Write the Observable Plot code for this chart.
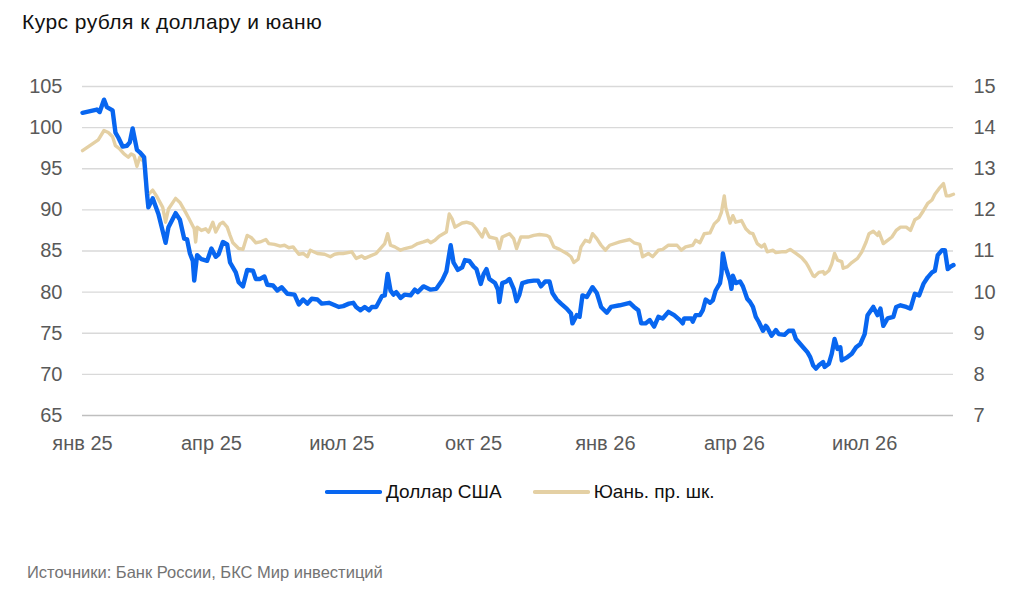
<!DOCTYPE html>
<html>
<head>
<meta charset="utf-8">
<script src="https://cdn.jsdelivr.net/npm/d3@7"></script>
<script src="https://cdn.jsdelivr.net/npm/@observablehq/plot@0.6"></script>
<style>
  html, body { margin: 0; padding: 0; background: #fff; }
  #wrap { position: relative; width: 1024px; height: 600px; font-family: "Liberation Sans", Arial, sans-serif; overflow: hidden; }
  #title { position: absolute; left: 22px; top: 10px; font-size: 21px; letter-spacing: 0.45px; color: #111; white-space: nowrap; }
  #chart { position: absolute; left: 0; top: 0; }
  #legend { position: absolute; left: 325px; top: 481px; display: flex; align-items: center; font-size: 19px; color: #111; white-space: nowrap; }
  #legend .item { display: flex; align-items: center; margin-right: 31px; }
  #legend svg { margin-right: 4px; }
  #caption { position: absolute; left: 27px; top: 563px; font-size: 16.5px; color: #737373; white-space: nowrap; }
</style>
</head>
<body>
<div id="wrap">
  <div id="title">Курс рубля к доллару и юаню</div>
  <div id="chart"></div>
  <div id="legend"></div>
  <div id="caption">Источники: Банк России, БКС Мир инвестиций</div>
</div>
<script>
// ---- data (days counted from 2025-01-01) ----
const startDate = "2025-01-01";
const endDate = "2026-09-01";

const usdDays = [0,10,12,15,17,21,23,25,28,31,33,35,38,40,43,45,46,49,53,58,60,65,68,71,73,75,77,78,80,83,87,90,93,95,98,101,103,107,109,112,115,119,121,124,127,129,133,136,139,143,148,151,154,157,160,164,167,172,179,182,186,189,191,194,197,200,202,205,209,211,213,215,217,219,222,225,229,232,234,238,243,247,251,254,257,259,262,265,267,270,273,275,278,280,282,284,288,290,291,293,296,298,301,303,305,307,311,315,318,320,323,326,328,331,334,338,341,342,345,347,349,352,354,356,359,362,366,369,375,382,385,388,390,393,396,399,402,405,409,413,417,419,420,425,426,428,431,433,435,438,440,442,445,446,447,449,452,453,454,456,459,461,464,466,468,470,472,475,477,478,481,484,486,490,493,496,498,500,503,506,508,510,512,514,517,518,521,523,525,527,529,530,534,537,540,543,546,548,552,555,557,559,562,566,568,571,575,578,581,584,587,590,593,595,597,600,602,604,606,608];
const usdValues = [101.8,102.2,101.9,103.4,102.5,102.1,99.4,98.8,97.7,97.8,98.2,99.9,97.3,97.0,96.4,92.0,90.3,91.4,89.5,86.0,87.9,89.6,88.8,86.5,86.4,84.7,83.8,81.4,84.5,84.0,83.8,85.3,84.3,84.6,86.1,85.8,83.6,82.4,81.2,80.7,82.7,82.6,81.6,81.6,81.9,80.9,80.8,80.2,80.6,79.8,79.7,78.5,79.1,78.6,79.2,79.1,78.6,78.7,78.2,78.3,78.6,78.7,78.2,77.8,78.2,77.8,78.2,78.2,79.5,79.6,82.2,80.2,79.7,80.0,79.3,79.7,79.6,80.3,80.0,80.7,80.3,80.4,81.4,82.5,85.7,83.6,82.7,83.0,83.9,83.8,83.1,82.8,81.0,82.2,82.8,81.6,81.1,80.3,78.8,81.1,81.3,81.6,80.4,78.9,79.7,81.1,81.3,81.4,81.4,80.7,81.3,81.3,79.9,79.1,78.6,78.0,77.4,76.2,77.2,77.0,79.6,79.4,80.0,80.6,79.9,78.2,77.5,78.2,78.4,78.7,78.2,77.8,76.2,76.2,76.6,75.8,77.0,76.8,77.6,77.2,76.6,76.2,76.8,76.8,76.4,77.2,77.2,77.8,79.1,78.7,79.0,80.2,81.1,82.2,84.7,83.0,81.4,80.4,82.0,81.1,81.3,80.7,79.2,78.8,78.2,77.0,76.4,75.3,75.9,75.7,74.7,75.4,74.9,74.8,75.3,75.3,74.3,73.9,73.3,72.7,72.1,71.1,70.7,71.1,71.5,70.9,71.3,72.5,74.3,73.1,73.3,71.7,72.1,72.5,73.3,73.7,74.9,77.2,78.2,77.2,78.0,75.9,76.8,77.0,78.2,78.4,78.2,78.0,79.8,79.6,81.0,81.8,82.4,82.6,84.5,85.1,85.1,82.8,83.1,83.3];

const cnyDays = [0,11,15,18,21,23,26,29,32,34,36,38,40,43,45,49,52,56,58,60,65,68,72,75,78,79,80,83,86,88,91,93,96,98,101,103,105,109,112,115,118,121,124,128,130,134,138,141,144,147,151,154,157,159,164,169,173,176,179,182,188,191,195,197,201,205,209,211,213,215,218,222,225,230,234,238,241,243,246,249,254,256,258,260,265,268,272,275,279,281,284,289,291,293,298,301,303,306,311,315,319,324,326,329,333,338,341,343,346,348,351,354,356,359,362,365,368,375,382,385,389,391,395,398,402,405,409,415,418,421,426,428,431,434,438,441,444,446,448,449,452,454,456,460,463,466,468,471,474,476,478,482,484,488,491,494,498,502,505,507,510,511,514,517,518,521,523,525,527,530,531,534,537,541,544,547,549,552,555,556,559,562,565,568,571,575,578,581,584,587,590,593,595,598,601,603,605,608];
const cnyValues = [13.44,13.70,13.93,13.88,13.78,13.56,13.48,13.36,13.28,13.36,13.32,13.06,13.28,13.16,12.34,12.48,12.32,12.06,11.70,12.02,12.28,12.18,11.94,11.74,11.54,11.22,11.58,11.50,11.54,11.46,11.70,11.46,11.66,11.70,11.58,11.38,11.20,11.06,11.04,11.38,11.32,11.20,11.22,11.28,11.18,11.16,11.12,11.14,11.08,11.10,10.92,10.94,10.86,11.02,10.94,10.92,10.86,10.92,10.94,10.94,10.98,10.82,10.88,10.82,10.88,10.94,11.10,11.18,11.42,11.14,11.10,11.02,11.06,11.10,11.18,11.22,11.26,11.20,11.26,11.36,11.46,11.90,11.78,11.58,11.68,11.70,11.66,11.54,11.34,11.54,11.34,11.30,11.06,11.34,11.42,11.30,11.06,11.34,11.34,11.38,11.40,11.38,11.34,11.10,11.04,10.94,10.86,10.72,10.80,11.10,11.26,11.22,11.42,11.30,11.14,11.02,11.14,11.22,11.28,11.20,11.16,10.86,10.94,10.86,11.02,11.04,11.14,11.14,11.02,11.10,11.14,11.26,11.20,11.42,11.44,11.66,11.76,11.94,12.34,12.06,11.68,11.86,11.70,11.74,11.54,11.44,11.42,11.18,11.10,11.16,10.98,11.02,10.96,10.98,10.98,11.04,10.94,10.84,10.72,10.60,10.40,10.38,10.48,10.50,10.44,10.52,10.68,10.94,10.78,10.74,10.58,10.62,10.72,10.82,10.98,11.22,11.42,11.48,11.38,11.46,11.18,11.26,11.34,11.50,11.58,11.58,11.50,11.76,11.82,11.98,12.16,12.24,12.38,12.52,12.64,12.34,12.34,12.38];

const leftTicks = [65, 70, 75, 80, 85, 90, 95, 100, 105];
const rightTickLabels = [7, 8, 9, 10, 11, 12, 13, 14, 15];
const xTickDates = ["2025-01-01","2025-04-01","2025-07-01","2025-10-01","2026-01-01","2026-04-01","2026-07-01"];
const monthNames = ["янв","фев","мар","апр","май","июн","июл","авг","сен","окт","ноя","дек"];
const seriesNames = ["Доллар США", "Юань. пр. шк."];
const seriesColors = ["#0866f0", "#e4d0a4"];

// ---- build ----
const t0 = new Date(startDate + "T00:00:00Z");
const usd = usdDays.map((d, i) => ({date: d3.utcDay.offset(t0, d), value: usdValues[i]}));
// yuan plotted on right scale 7..15 mapped onto left 65..105
const toLeft = c => 65 + (c - 7) * 5;
const cny = cnyDays.map((d, i) => ({date: d3.utcDay.offset(t0, d), value: toLeft(cnyValues[i])}));
const xTicks = xTickDates.map(s => new Date(s + "T00:00:00Z"));
const fmtX = d => monthNames[d.getUTCMonth()] + " " + String(d.getUTCFullYear()).slice(2);

const chart = Plot.plot({
  width: 1024,
  height: 470,
  marginLeft: 82,
  marginRight: 71,
  marginTop: 86,
  marginBottom: 55,
  style: {fontFamily: "'Liberation Sans', Arial, sans-serif", color: "#595959", background: "transparent", overflow: "visible"},
  x: {type: "utc", domain: [t0, new Date(endDate + "T00:00:00Z")]},
  y: {domain: [65, 105]},
  marks: [
    Plot.gridY(leftTicks.slice(1), {stroke: "#d9d9d9", strokeOpacity: 1, strokeWidth: 1.3}),
    Plot.ruleY([65], {stroke: "#bfbfbf", strokeWidth: 1.5}),
    Plot.axisY(leftTicks, {anchor: "left", tickSize: 0, tickPadding: 20, fontSize: 20, label: null}),
    Plot.axisY(leftTicks, {anchor: "right", tickSize: 0, tickPadding: 20, fontSize: 20, label: null,
      tickFormat: d => String(rightTickLabels[leftTicks.indexOf(d)])}),
    Plot.axisX(xTicks, {tickSize: 0, tickPadding: 20, fontSize: 20, label: null, tickFormat: fmtX}),
    Plot.line(cny, {x: "date", y: "value", stroke: seriesColors[1], strokeWidth: 3.4, curve: "linear"}),
    Plot.line(usd, {x: "date", y: "value", stroke: seriesColors[0], strokeWidth: 4.4, curve: "linear"})
  ]
});
document.getElementById("chart").appendChild(chart);

// legend
const legend = document.getElementById("legend");
seriesNames.forEach((name, i) => {
  const item = document.createElement("div");
  item.className = "item";
  item.innerHTML = `<svg width="57" height="8"><line x1="2" y1="4" x2="55" y2="4" stroke="${seriesColors[i]}" stroke-width="4.2" stroke-linecap="round"/></svg><span>${name}</span>`;
  legend.appendChild(item);
});
</script>
</body>
</html>
